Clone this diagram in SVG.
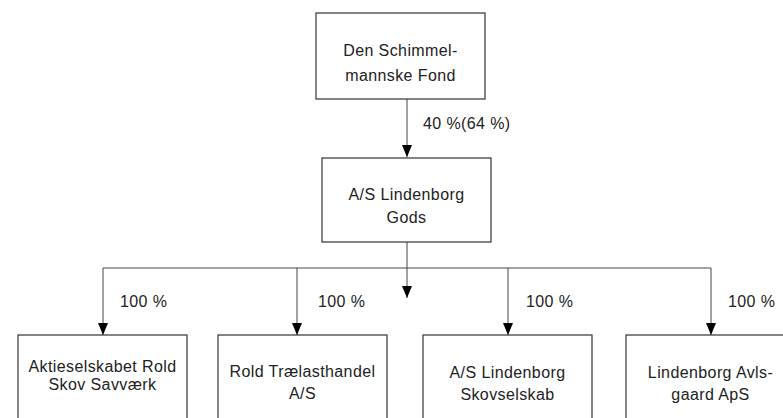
<svg xmlns="http://www.w3.org/2000/svg" width="783" height="418" viewBox="0 0 783 418">
<defs>
<style>
.box{fill:#fff;stroke:#333;stroke-width:1.2}
.t{font-family:"Liberation Sans",Arial,sans-serif;font-size:16px;fill:#222;text-anchor:middle;letter-spacing:0.4px}
.l{font-family:"Liberation Sans",Arial,sans-serif;font-size:16px;fill:#222;letter-spacing:0.4px}
.c{stroke:#444;stroke-width:1;fill:none}
</style>
<marker id="ah" markerWidth="12" markerHeight="10" refX="12" refY="5" orient="auto" markerUnits="userSpaceOnUse">
<path d="M0,0 L12,5 L0,10 Z" fill="#000"/>
</marker>
</defs>
<rect width="783" height="418" fill="#fff"/>
<g id="connectors">
<line class="c" x1="407" y1="99" x2="407" y2="157" marker-end="url(#ah)"/>
<line class="c" x1="407" y1="242" x2="407" y2="298" marker-end="url(#ah)"/>
<line class="c" x1="103" y1="268" x2="711" y2="268"/>
<line class="c" x1="103" y1="268" x2="103" y2="335" marker-end="url(#ah)"/>
<line class="c" x1="297" y1="268" x2="297" y2="335" marker-end="url(#ah)"/>
<line class="c" x1="508" y1="268" x2="508" y2="335" marker-end="url(#ah)"/>
<line class="c" x1="711" y1="268" x2="711" y2="335" marker-end="url(#ah)"/>
<text class="l" x="423" y="129">40 %(64 %)</text>
<text class="l" x="120" y="307">100 %</text>
<text class="l" x="318" y="307">100 %</text>
<text class="l" x="526" y="307">100 %</text>
<text class="l" x="728" y="307">100 %</text>
</g>
<g id="fond">
<rect class="box" x="316" y="13" width="169" height="86"/>
<text class="t" x="400.5" y="56">Den Schimmel-</text>
<text class="t" x="400.5" y="81">mannske Fond</text>
</g>
<g id="gods">
<rect class="box" x="322" y="158" width="169" height="84"/>
<text class="t" x="406.5" y="200">A/S Lindenborg</text>
<text class="t" x="406.5" y="223">Gods</text>
</g>
<g id="savvaerk">
<rect class="box" x="18" y="335" width="169" height="100"/>
<text class="t" x="102.5" y="372">Aktieselskabet Rold</text>
<text class="t" x="102.5" y="390">Skov Savværk</text>
</g>
<g id="traelast">
<rect class="box" x="218" y="335" width="169" height="100"/>
<text class="t" x="302.5" y="377">Rold Trælasthandel</text>
<text class="t" x="302.5" y="399">A/S</text>
</g>
<g id="skovselskab">
<rect class="box" x="423" y="335" width="169" height="100"/>
<text class="t" x="507.5" y="378">A/S Lindenborg</text>
<text class="t" x="507.5" y="400">Skovselskab</text>
</g>
<g id="avlsgaard">
<rect class="box" x="626" y="335" width="169" height="100"/>
<text class="t" x="710.5" y="378">Lindenborg Avls-</text>
<text class="t" x="710.5" y="400">gaard ApS</text>
</g>
</svg>
